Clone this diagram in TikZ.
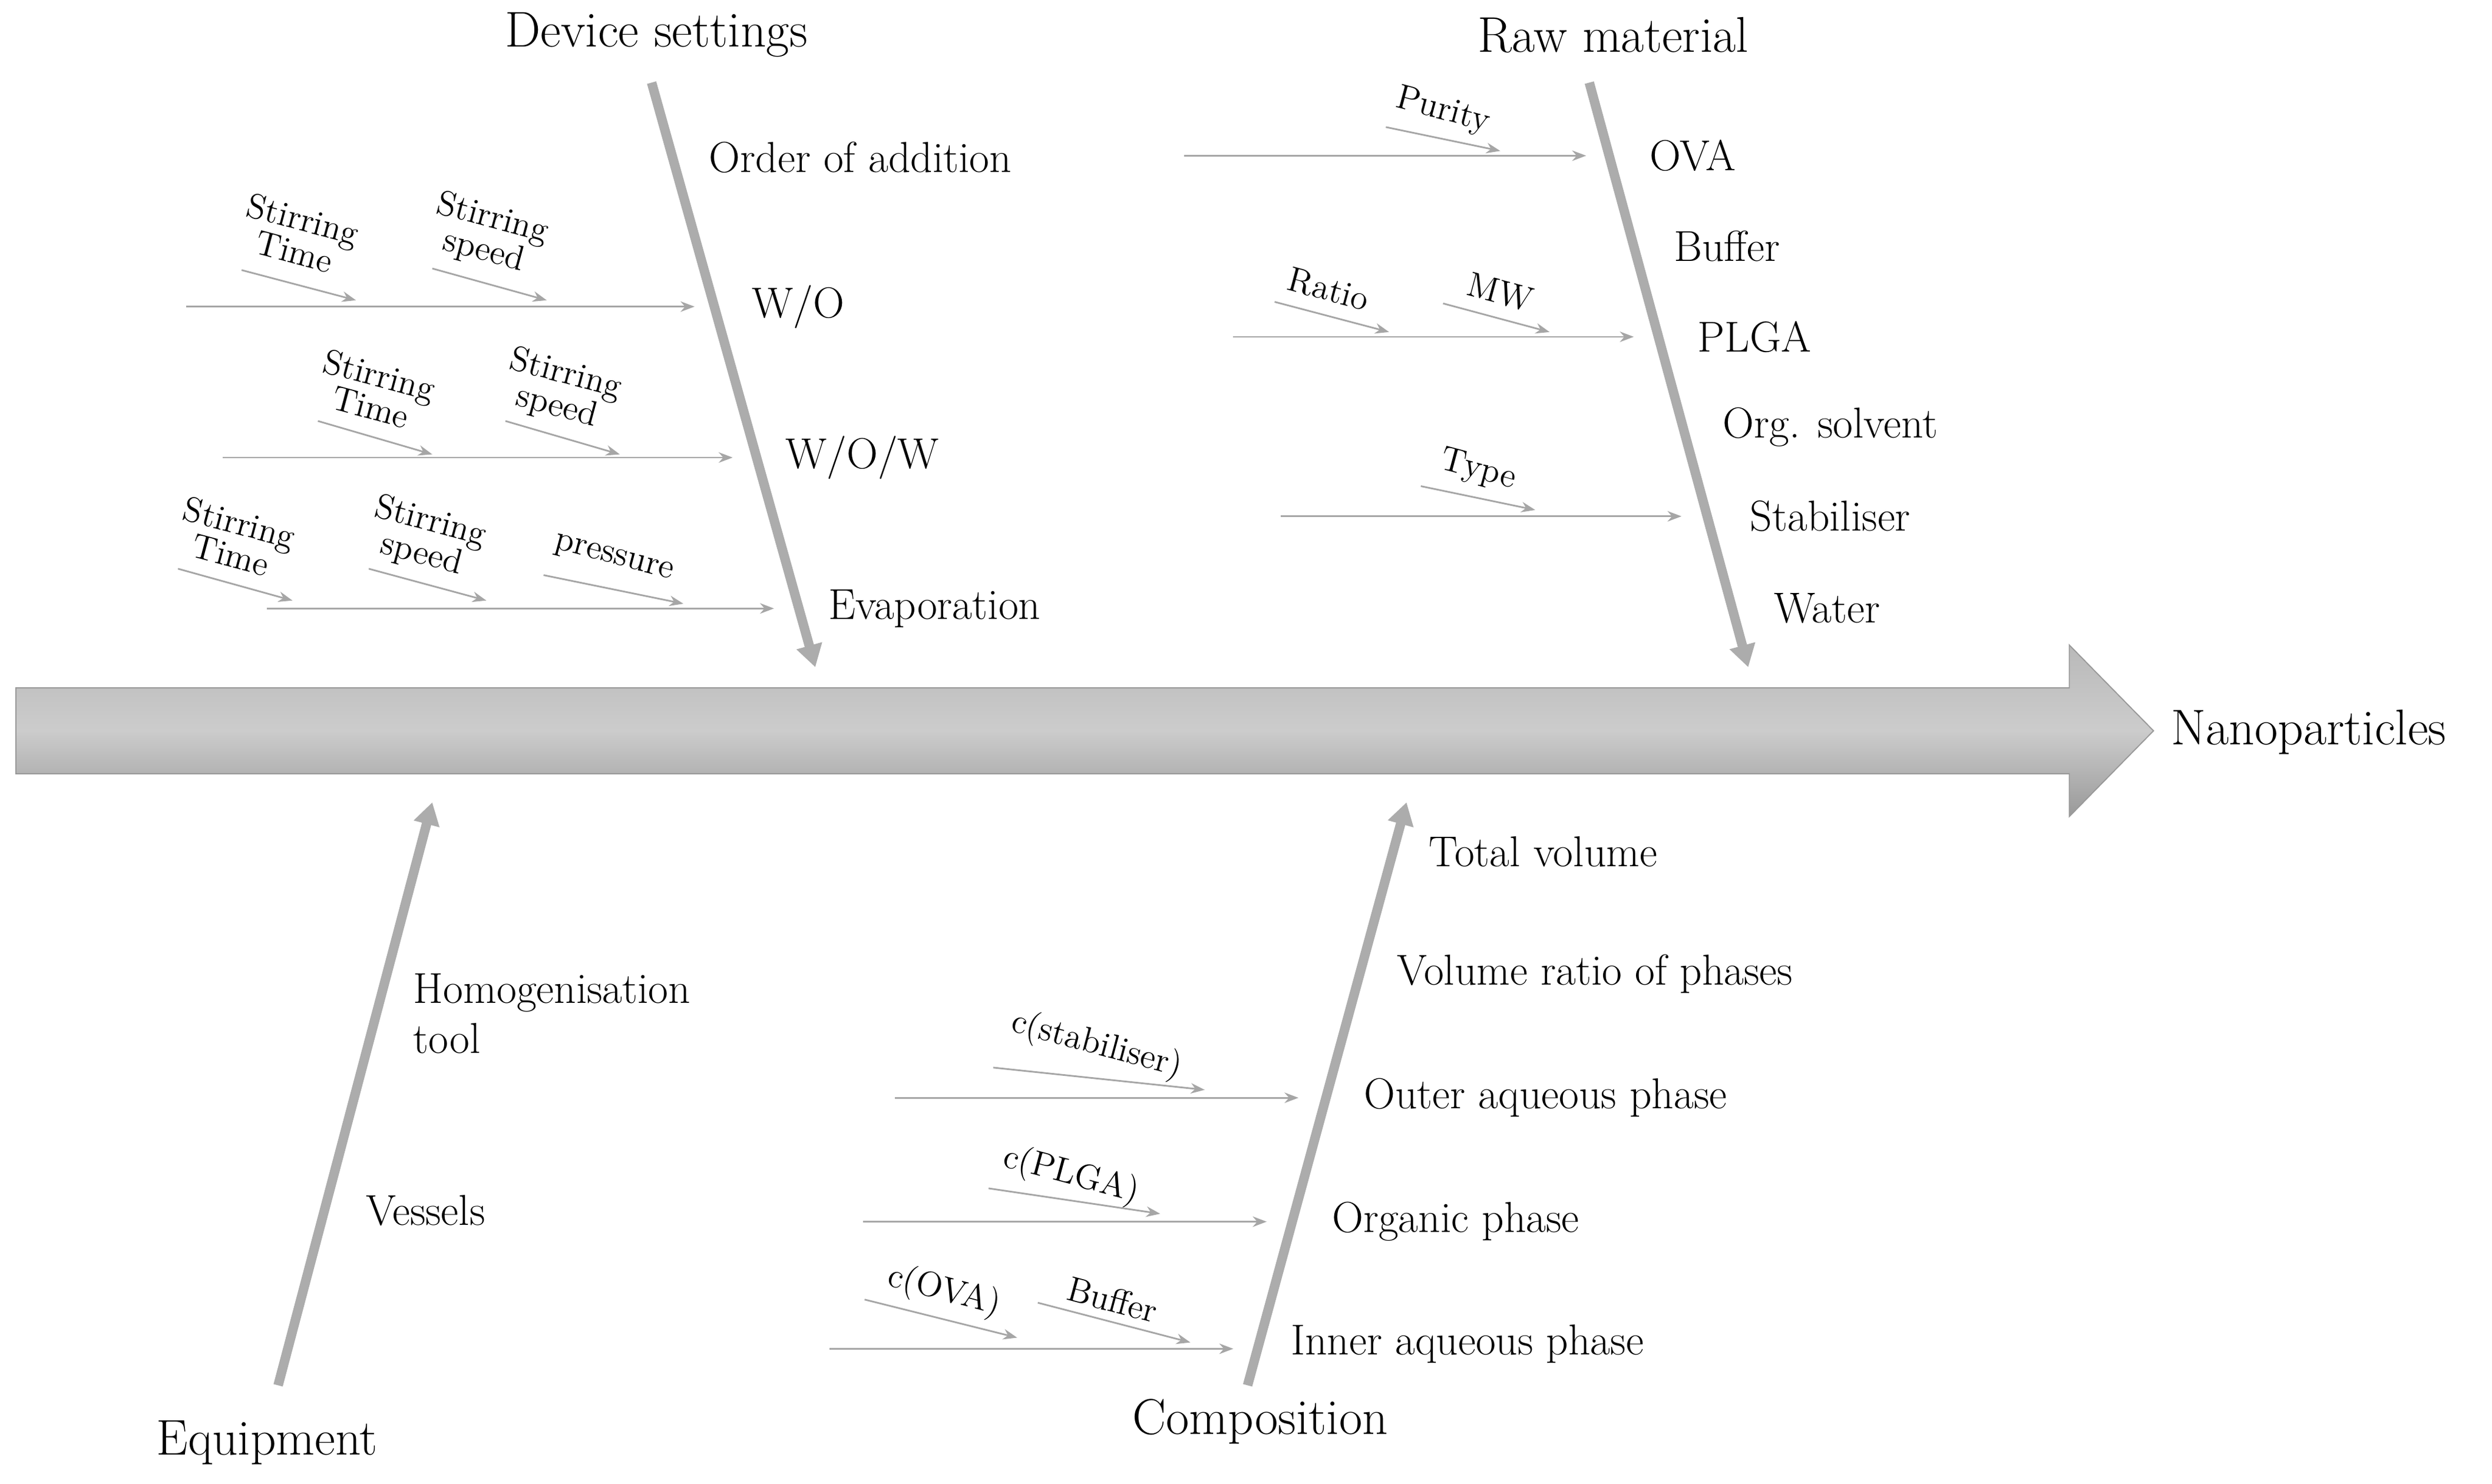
\documentclass[tikz,border=0pt]{standalone}
\usetikzlibrary{arrows.meta}
\begin{document}
\begin{tikzpicture}[x=0.02cm,y=-0.02cm,
    title/.style={font=\fontsize{18}{21}\selectfont},
    item/.style={font=\fontsize{15.5}{18}\selectfont, anchor=west},
    small/.style={font=\fontsize{12.5}{12}\selectfont, rotate=-15, align=center, inner sep=0pt},
    bone/.style={line width=3.4pt, gray!65, -{Triangle[length=8pt,width=9pt]}},
    sub/.style={gray!70, line width=0.6pt, -{Stealth[length=5pt]}}]
    \useasboundingbox (0,0) rectangle (1568,934);

    % main arrow
    \shade[top color=gray!55, bottom color=gray!80, middle color=gray!40, draw=gray!80]
        (10,433) -- (1302,433) -- (1302,406) -- (1355,460) -- (1302,514) -- (1302,487) -- (10,487) -- cycle;
    \node[title, anchor=west] (np) at (1360,461) {Nanoparticles};

    % bones
    \coordinate (d1) at (410,52);  \coordinate (d2) at (513,420);
    \coordinate (r1) at (1000,52); \coordinate (r2) at (1100,420);
    \coordinate (e1) at (175,872); \coordinate (e2) at (272,505);
    \coordinate (c1) at (785,872); \coordinate (c2) at (885,505);
    \draw[bone] (d1) -- (d2);
    \draw[bone] (r1) -- (r2);
    \draw[bone] (e1) -- (e2);
    \draw[bone] (c1) -- (c2);

    \node[title] (dev) at (413,22) {Device settings};
    \node[title] (raw) at (1015,22) {Raw material};
    \node[title] (equ) at (168,908) {Equipment};
    \node[title] (com) at (793,895) {Composition};

    % device settings
    \node[item] (order) at (440,99) {Order of addition};
    \node[item] (wo) at (467,193) {W/O};
    \node[item] (wow) at (488,288) {W/O/W};
    \node[item] (evap) at (515,383) {Evaporation};
    \coordinate (wo0) at (117,193);  \coordinate (wo1) at (437,193);
    \coordinate (wow0) at (140,288); \coordinate (wow1) at (461,288);
    \coordinate (ev0) at (168,383);  \coordinate (ev1) at (487,383);
    \draw[sub] (wo0) -- (wo1);
    \draw[sub] (wow0) -- (wow1);
    \draw[sub] (ev0) -- (ev1);

    \node[small] (st1) at (188,148) {Stirring\\Time};
    \node[small] (ss1) at (307,148) {Stirring\\speed};
    \node[small] (st2) at (236,246) {Stirring\\Time};
    \node[small] (ss2) at (353,246) {Stirring\\speed};
    \node[small] (st3) at (148,339) {Stirring\\Time};
    \node[small] (ss3) at (268,339) {Stirring\\speed};
    \node[small] (pr3) at (386,352) {pressure};
    \draw[sub] (152,170) -- (224,189);
    \draw[sub] (272,169) -- (344,189);
    \draw[sub] (200,265) -- (272,286);
    \draw[sub] (318,265) -- (390,286);
    \draw[sub] (112,358) -- (184,378);
    \draw[sub] (232,358) -- (306,378);
    \draw[sub] (342,362) -- (430,380);

    % raw material
    \node[item] (ova) at (1032,98) {OVA};
    \node[item] (buf) at (1047,155) {Buffer};
    \node[item] (plga) at (1062,212) {PLGA};
    \node[item] (org) at (1078,269) {Org. solvent};
    \node[item] (stab) at (1095,325) {Stabiliser};
    \node[item] (wat) at (1110,383) {Water};
    \coordinate (ova0) at (745,98);   \coordinate (ova1) at (998,98);
    \coordinate (plga0) at (776,212); \coordinate (plga1) at (1028,212);
    \coordinate (stab0) at (806,325); \coordinate (stab1) at (1058,325);
    \draw[sub] (ova0) -- (ova1);
    \draw[sub] (plga0) -- (plga1);
    \draw[sub] (stab0) -- (stab1);
    \node[small] (pur) at (908,70) {Purity};
    \node[small] (rat) at (836,182) {Ratio};
    \node[small] (mw) at (944,184) {MW};
    \node[small] (typ) at (930,296) {Type};
    \draw[sub] (872,80) -- (944,95);
    \draw[sub] (802,190) -- (874,209);
    \draw[sub] (908,191) -- (975,209);
    \draw[sub] (894,306) -- (966,321);

    % equipment
    \node[item, align=left] (hom) at (254,638) {Homogenisation\\tool};
    \node[item] (ves) at (224,762) {Vessels};

    % composition
    \node[item] (tot) at (893,536) {Total volume};
    \node[item] (vol) at (873,613) {Volume ratio of phases};
    \node[item] (out) at (852,691) {Outer aqueous phase};
    \node[item] (orp) at (832,769) {Organic phase};
    \node[item] (inn) at (806,846) {Inner aqueous phase};
    \coordinate (out0) at (563,691); \coordinate (out1) at (817,691);
    \coordinate (orp0) at (543,769); \coordinate (orp1) at (797,769);
    \coordinate (inn0) at (522,849); \coordinate (inn1) at (776,849);
    \draw[sub] (out0) -- (out1);
    \draw[sub] (orp0) -- (orp1);
    \draw[sub] (inn0) -- (inn1);
    \node[small] (cst) at (690,658) {c(stabiliser)};
    \node[small] (cpl) at (674,740) {c(PLGA)};
    \node[small] (cov) at (594,813) {c(OVA)};
    \node[small] (cbu) at (700,818) {Buffer};
    \draw[sub] (625,672) -- (758,686);
    \draw[sub] (622,748) -- (730,764);
    \draw[sub] (544,818) -- (640,842);
    \draw[sub] (653,820) -- (749,845);
\end{tikzpicture}
\end{document}
